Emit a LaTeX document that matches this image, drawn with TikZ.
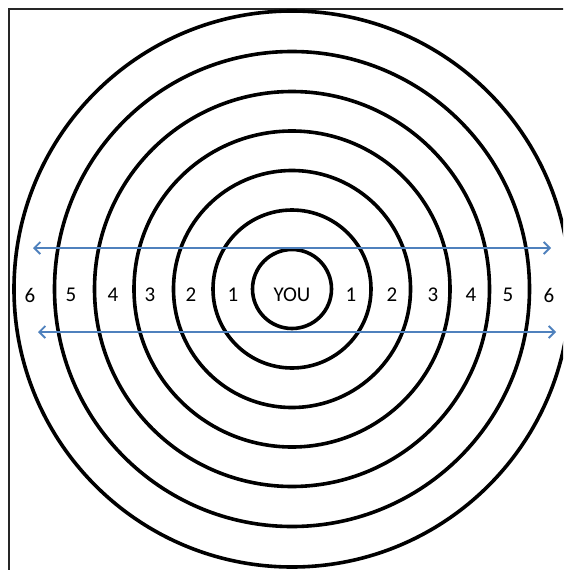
\documentclass[tikz,border=0pt]{standalone}
\usepackage{fontspec}
\setmainfont{Carlito}
\usetikzlibrary{arrows.meta}
\definecolor{arrowblue}{RGB}{79,129,189}
\begin{document}
\begin{tikzpicture}[x=1pt,y=-1pt,
  ring/.style={draw=black,line width=3.6pt},
  lbl/.style={font=\fontsize{21}{21}\selectfont,inner sep=0pt,anchor=center},
  barrow/.style={draw=arrowblue,line width=1.8pt,{Straight Barb[length=6pt,width=12pt]}-{Straight Barb[length=6pt,width=12pt]}}]
\useasboundingbox (0,0) rectangle (563,570);
\begin{scope}
\clip (0,0) rectangle (563,570);
\draw[line width=2pt,draw=black!85] (9,620) -- (9,9) -- (620,9);
\coordinate (c) at (292,289);
\foreach \r in {39.5,79,118.5,158,197.5,237.5,278}
  \draw[ring] (c) circle[radius=\r];
\end{scope}
\node[lbl] (you) at (292,295) {YOU};
\node[lbl] (l1) at (233,295) {1};
\node[lbl] (l2) at (191,295) {2};
\node[lbl] (l3) at (150,295) {3};
\node[lbl] (l4) at (113,295) {4};
\node[lbl] (l5) at (71,295) {5};
\node[lbl] (l6) at (30,295) {6};
\node[lbl] (r1) at (351,295) {1};
\node[lbl] (r2) at (392,295) {2};
\node[lbl] (r3) at (433,295) {3};
\node[lbl] (r4) at (471,295) {4};
\node[lbl] (r5) at (508,295) {5};
\node[lbl] (r6) at (549,295) {6};
\coordinate (ua) at (33,248);
\coordinate (ub) at (551,248);
\coordinate (la) at (38,332);
\coordinate (lb) at (556,332);
\draw[barrow] (ua) -- (ub);
\draw[barrow] (la) -- (lb);
\end{tikzpicture}
\end{document}
